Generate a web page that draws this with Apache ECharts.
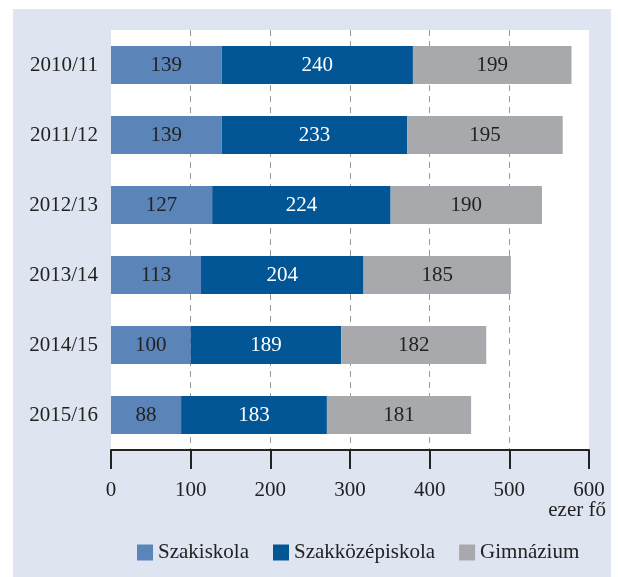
<!DOCTYPE html>
<html>
<head>
<meta charset="utf-8">
<script src="https://cdn.jsdelivr.net/npm/echarts@6/dist/echarts.min.js"></script>
<style>html,body{margin:0;padding:0;background:#fff}#c{width:618px;height:577px}</style>
</head>
<body>
<div id="c"></div>
<script>
const categories = ['2010/11','2011/12','2012/13','2013/14','2014/15','2015/16'];
const szakiskola = [139,139,127,113,100,88];
const szakkozep = [240,233,224,204,189,183];
const gimnazium = [199,195,190,185,182,181];
const xTicks = [0,100,200,300,400,500,600];

const FONT = 'Liberation Serif';
const FS = 21;
const chart = echarts.init(document.getElementById('c'));
function series(name, data, color, labelColor){
  return {
    name, type:'bar', stack:'t', data, barWidth:38,
    itemStyle:{color},
    label:{show:true, position:'inside', color:labelColor, fontFamily:FONT, fontSize:FS},
    emphasis:{disabled:true}
  };
}
chart.setOption({
  animation:false,
  textStyle:{fontFamily:FONT},
  graphic:[
    {type:'rect', z:-10, silent:true, shape:{x:13,y:9,width:598,height:568}, style:{fill:'#dfe5f0'}},
    {type:'text', right:12, top:500, style:{text:'ezer fő', font:FS + 'px "Liberation Serif"', fill:'#222', textAlign:'right'}}
  ],
  grid:{left:111, top:30, width:478, height:420, show:true, backgroundColor:'#fff', borderWidth:0, containLabel:false},
  legend:{
    left:137, top:542, padding:0, itemWidth:16, itemHeight:16, itemGap:24, icon:'rect',
    textStyle:{fontFamily:FONT, fontSize:FS, color:'#222'},
    data:['Szakiskola','Szakközépiskola','Gimnázium']
  },
  xAxis:{
    type:'value', min:xTicks[0], max:xTicks[xTicks.length-1], interval:100,
    axisLine:{show:true, lineStyle:{color:'#222', width:2}},
    axisTick:{show:true, length:19, lineStyle:{color:'#222', width:2}},
    axisLabel:{margin:30, color:'#222', fontFamily:FONT, fontSize:FS},
    splitLine:{show:true, showMinLine:false, showMaxLine:false, lineStyle:{color:'#999', type:[6,5], width:1}}
  },
  yAxis:{
    type:'category', data:categories, inverse:true,
    axisLine:{show:false}, axisTick:{show:false},
    axisLabel:{margin:13, color:'#222', fontFamily:FONT, fontSize:FS}
  },
  series:[
    series('Szakiskola', szakiskola, '#5b84b8', '#222'),
    series('Szakközépiskola', szakkozep, '#035695', '#fff'),
    series('Gimnázium', gimnazium, '#a7a9ac', '#222')
  ]
});
</script>
</body>
</html>
